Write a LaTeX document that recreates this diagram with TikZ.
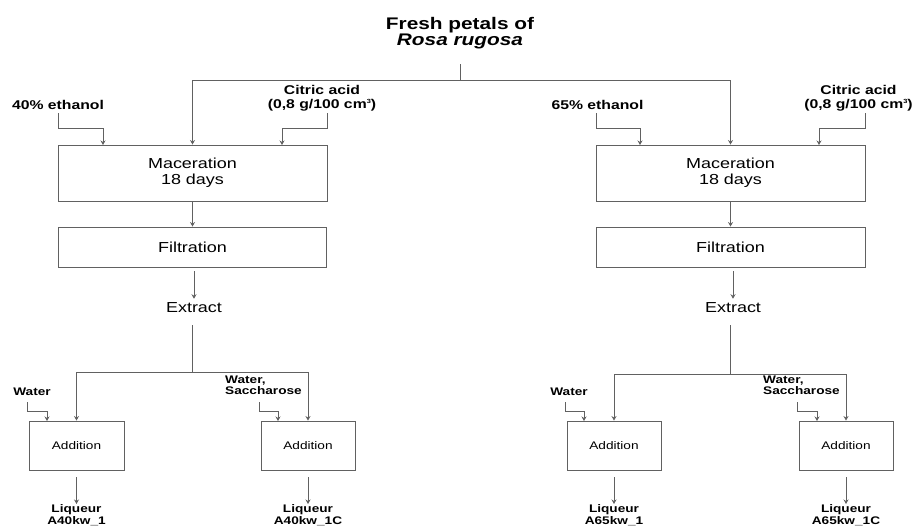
\documentclass[tikz,border=0pt]{standalone}
\usepackage{fontspec}
\setmainfont{Liberation Sans}[FakeStretch=1.24]
\usetikzlibrary{arrows.meta}
\newcommand{\cubesup}{\raisebox{4.5pt}{\fontsize{6}{6}\selectfont 3}}
\begin{document}
\begin{tikzpicture}[x=1pt,y=-1pt,
  line/.style={draw=black!62, line width=0.9pt},
  arr/.style={line, -{Stealth[length=4.5pt,width=5pt]}},
  bigbox/.style={draw=black!62, line width=0.9pt, rectangle, inner sep=0pt, minimum width=269pt, align=center, font=\fontsize{14.5}{16}\selectfont},
  addbox/.style={draw=black!62, line width=0.9pt, rectangle, inner sep=0pt, minimum width=94pt, minimum height=49pt, font=\fontsize{11}{13}\selectfont},
  titlelab/.style={inner sep=0pt, align=center, font=\bfseries\fontsize{16.8}{15}\selectfont},
  extlab/.style={inner sep=0pt, font=\fontsize{14.5}{16}\selectfont},
  lab/.style={inner sep=0pt, align=center, font=\bfseries\fontsize{12.7}{14}\selectfont},
  smalllab/.style={inner sep=0pt, align=center, font=\bfseries\fontsize{11}{12}\selectfont},
  smallleft/.style={inner sep=0pt, align=left, font=\bfseries\fontsize{11}{11.5}\selectfont}]
\useasboundingbox (0,0) rectangle (917,527);

% title
\node[titlelab, anchor=north] (title) at (460,17.5) {Fresh petals of\\\textit{Rosa rugosa}};
\coordinate (top) at (460,80);

% left branch
\node[lab, anchor=south] (eth40) at (58,110) {40\% ethanol};
\node[lab, anchor=south] (citL) at (322,111) {Citric acid\\(0,8 g/100 cm\cubesup)};
\node[bigbox, minimum height=56pt] (macL) at (192.5,173) {Maceration\\18 days};
\node[bigbox, minimum height=40pt, minimum width=268pt] (filL) at (192.5,247) {Filtration};
\node[extlab] (extL) at (194,308) {Extract};
\coordinate (jL) at (192,372);
\node[smalllab, anchor=south] (wL) at (32,396) {Water};
\node[smallleft, anchor=south west] (wsL) at (225,395) {Water,\\Saccharose};
\node[addbox, minimum width=95pt] (addL1) at (76.5,445.5) {Addition};
\node[addbox] (addL2) at (308,445.5) {Addition};
\node[smalllab, anchor=north] (liqL1) at (76.5,504) {Liqueur\\A40kw\_1};
\node[smalllab, anchor=north] (liqL2) at (308,504) {Liqueur\\A40kw\_1C};

% right branch
\node[lab, anchor=south] (eth65) at (597.5,110) {65\% ethanol};
\node[lab, anchor=south] (citR) at (858.5,111) {Citric acid\\(0,8 g/100 cm\cubesup)};
\node[bigbox, minimum height=56pt] (macR) at (730.5,173) {Maceration\\18 days};
\node[bigbox, minimum height=40pt] (filR) at (730.5,247) {Filtration};
\node[extlab] (extR) at (733,308) {Extract};
\coordinate (jR) at (730,374);
\node[smalllab, anchor=south] (wR) at (569,396) {Water};
\node[smallleft, anchor=south west] (wsR) at (763,395) {Water,\\Saccharose};
\node[addbox] (addR1) at (614,445.5) {Addition};
\node[addbox] (addR2) at (846,445.5) {Addition};
\node[smalllab, anchor=north] (liqR1) at (614,504) {Liqueur\\A65kw\_1};
\node[smalllab, anchor=north] (liqR2) at (846,504) {Liqueur\\A65kw\_1C};

% top feed
\draw[line] ([yshift=-14.5pt]title.south) -- (top);
\draw[arr] (top) -| (macL.north);
\draw[arr] (top) -| (macR.north);

% inputs to maceration
\draw[arr] ([yshift=-3pt]eth40.south) |- ++(45,15) -- ++(0,17);
\draw[arr] ([xshift=5pt,yshift=-2pt]citL.south) |- ++(-45,15) -- ++(0,17);
\draw[arr] ([xshift=-1.5pt,yshift=-3pt]eth65.south) |- ++(44,15) -- ++(0,17);
\draw[arr] ([xshift=6.5pt,yshift=-2pt]citR.south) |- ++(-46,15) -- ++(0,17);

% maceration -> filtration -> extract
\draw[arr] (macL.south) -- (macL.south |- filL.north);
\draw[arr] (macR.south) -- (macR.south |- filR.north);
\draw[arr] ([yshift=-4pt]filL.south -| extL.north) -- ([yshift=4pt]extL.north);
\draw[arr] ([yshift=-4pt]filR.south -| extR.north) -- ([yshift=4pt]extR.north);

% extract split
\draw[line] ([yshift=-12pt]extL.south -| jL) -- (jL);
\draw[arr] (jL) -| (addL1.north);
\draw[arr] (jL) -| (addL2.north);
\draw[line] ([yshift=-12pt]extR.south -| jR) -- (jR);
\draw[arr] (jR) -| (addR1.north);
\draw[arr] (jR) -| (addR2.north);

% additions
\draw[arr] ([xshift=-5pt,yshift=-6pt]wL.south) |- ++(20,9) -- ++(0,10);
\draw[arr] ([xshift=34pt,yshift=-7pt]wsL.south west) |- ++(19,9) -- ++(0,10);
\draw[arr] ([xshift=-4pt,yshift=-6pt]wR.south) |- ++(19,9) -- ++(0,10);
\draw[arr] ([xshift=34pt,yshift=-7pt]wsR.south west) |- ++(20,9) -- ++(0,10);

% outputs
\draw[arr] ([yshift=-7pt]addL1.south) -- (liqL1.north);
\draw[arr] ([yshift=-7pt]addL2.south) -- (liqL2.north);
\draw[arr] ([yshift=-7pt]addR1.south) -- (liqR1.north);
\draw[arr] ([yshift=-7pt]addR2.south) -- (liqR2.north);
\end{tikzpicture}
\end{document}
